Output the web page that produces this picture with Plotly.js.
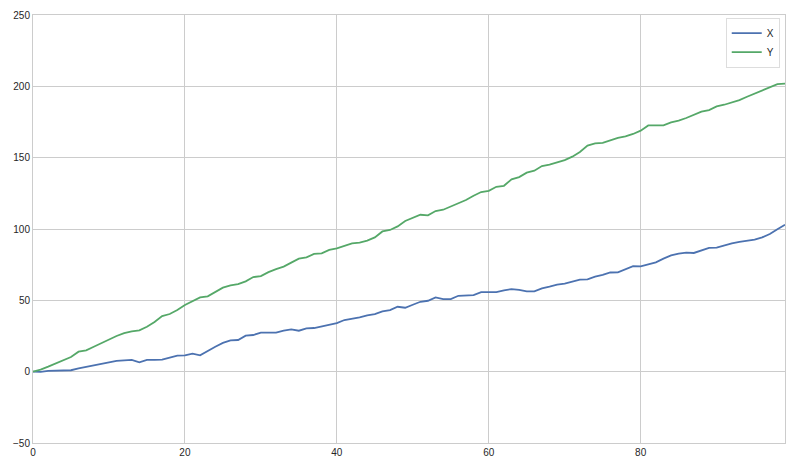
<!DOCTYPE html>
<html>
<head>
<meta charset="utf-8">
<script src="https://cdn.plot.ly/plotly-3.0.1.min.js"></script>
<style>
html,body{margin:0;padding:0;background:#fff;}
#chart{width:800px;height:469px;}
</style>
</head>
<body>
<div id="chart"></div>
<script>
var seriesNames = ["X", "Y"];
var xValues = [0,-0.2,0.5,0.7,0.5,1,2.3,3.3,4.4,5.4,6.1,7.5,7.9,8.2,6.5,8.2,8.2,8.4,9.8,11.2,
  11.4,12.6,11.4,14.7,17.5,20.2,21.9,22.2,25.2,25.7,27.3,27.3,27.3,28.7,29.6,28.7,30.3,30.6,31.7,32.9,
  34,36.2,37.1,38,39.5,40.4,42.3,43.2,45.5,44.8,46.9,49,49.7,52.1,50.9,50.9,53.2,53.2,53.7,55.8,
  55.8,55.8,57,57.9,57.4,56.3,56.3,58.4,59.6,61,61.7,63.1,64.5,64.7,66.6,67.8,69.5,69.6,71.7,74,
  73.8,75.4,76.6,79.2,81.5,82.7,83.4,83.2,84.8,86.7,86.9,88.6,89.9,90.9,91.6,92.5,94.1,96.5,99.8,103];
var yValues = [0,1.4,3.5,5.8,8.4,10.3,14,15,17.5,20,23,25,27,28.3,29,31.5,34.8,39,40.4,43.2,
  46.7,49.5,52,52.8,56,58.9,60.5,61.4,63.3,66.3,67,69.8,71.9,73.6,76.4,79.2,80.1,82.5,82.9,85.3,
  86.4,88.3,89.9,90.4,91.8,94.1,98.3,99.3,101.8,105.6,107.9,110,109.6,112.6,113.5,115.9,118.4,120.3,123.3,125.9,
  126.8,129.6,130.3,134.8,136.4,139.5,140.9,144.1,145.1,146.5,148.3,150.7,154,158.4,160,160.3,162.1,163.8,164.9,166.6,
  168.9,172.6,172.6,172.6,174.7,175.9,177.8,180.1,182.2,183.4,185.9,187.1,188.5,190.4,192.7,194.8,197.2,199,201.6,201.9];
var index = xValues.map(function(_, i){ return i; });
var xTicks = [0, 20, 40, 60, 80];
var yTicks = [-50, 0, 50, 100, 150, 200, 250];

var traces = [
  {x: index, y: xValues, name: seriesNames[0], type: "scatter", mode: "lines",
   line: {color: "#4c72b0", width: 1.8}},
  {x: index, y: yValues, name: seriesNames[1], type: "scatter", mode: "lines",
   line: {color: "#55a868", width: 1.8}}
];

var gridColor = "#cccccc";
var layout = {
  width: 800, height: 469,
  margin: {l: 33, r: 15, t: 15, b: 26, pad: 0},
  paper_bgcolor: "#ffffff",
  plot_bgcolor: "#ffffff",
  font: {family: "Liberation Sans, Arial, sans-serif", size: 10, color: "#262626"},
  showlegend: true,
  legend: {x: 0.993, xanchor: "right", y: 0.994, yanchor: "top",
    bgcolor: "#ffffff", bordercolor: "#dddddd", borderwidth: 1,
    font: {size: 10, color: "#262626"}, itemwidth: 30, tracegroupgap: 0},
  xaxis: {range: [0, 99], tickvals: xTicks, ticks: "", showgrid: true, gridcolor: gridColor,
    gridwidth: 1, zeroline: false, showline: true, linecolor: gridColor, linewidth: 1, mirror: true,
    ticklen: 0, tickfont: {size: 10, color: "#262626"}},
  yaxis: {range: [-50, 250], tickvals: yTicks, ticks: "", showgrid: true, gridcolor: gridColor,
    gridwidth: 1, zeroline: false, showline: true, linecolor: gridColor, linewidth: 1, mirror: true,
    tickfont: {size: 10, color: "#262626"}}
};

Plotly.newPlot("chart", traces, layout, {displayModeBar: false, staticPlot: true});
</script>
</body>
</html>
